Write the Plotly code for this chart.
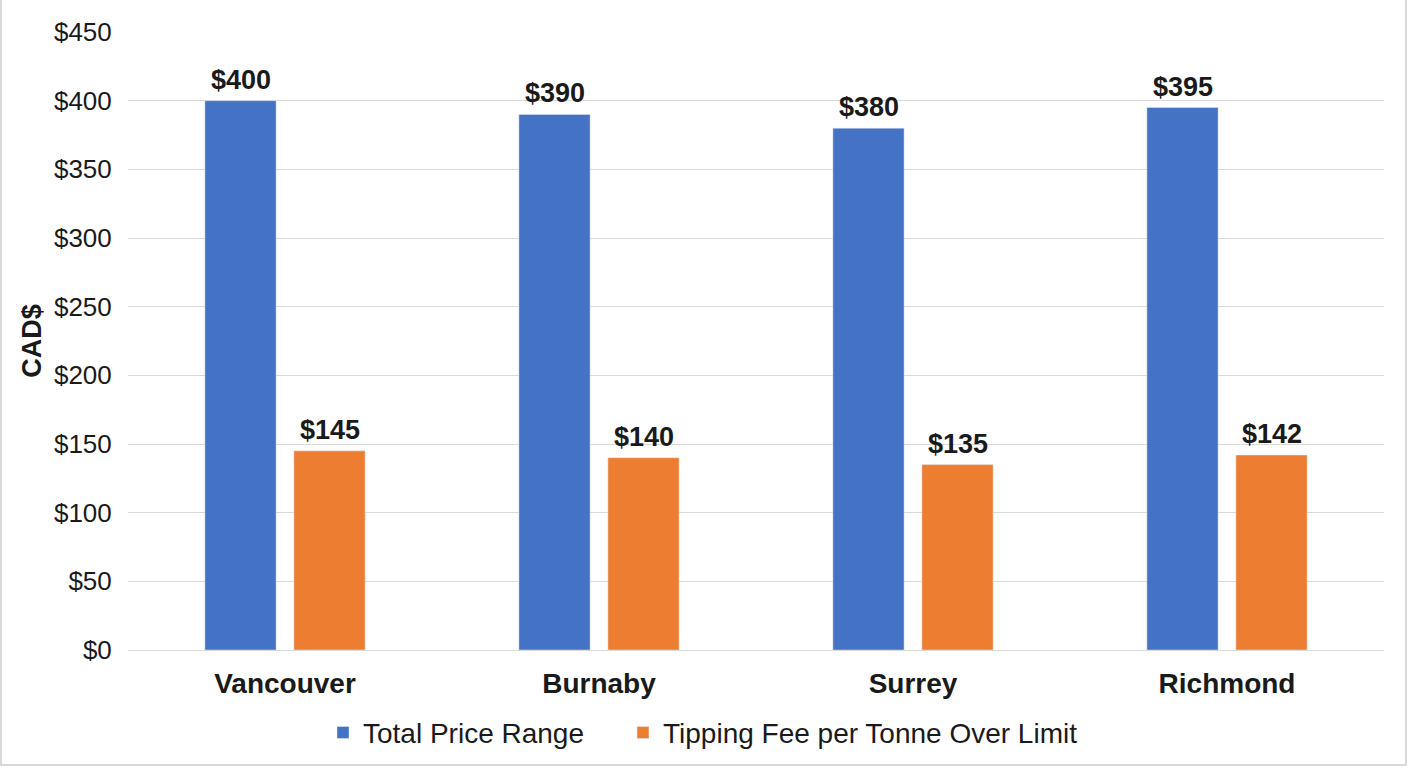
import plotly.graph_objects as go

cities = ["Vancouver", "Burnaby", "Surrey", "Richmond"]
total_price = [400, 390, 380, 395]
tipping_fee = [145, 140, 135, 142]
series_names = ["Total Price Range", "Tipping Fee per Tonne Over Limit"]
y_ticks = [0, 50, 100, 150, 200, 250, 300, 350, 400, 450]
y_tick_labels = ["$" + str(v) for v in y_ticks]

FONT = "Liberation Sans, Arial, sans-serif"
TXT = "#1a1a1a"
COLORS = ["#4472C4", "#ED7D31"]
BAR_OFFSET_PX = [-44.5, 44.5]
LEGEND_IDS = ["legend", "legend2"]
LEGEND_LEFT_PX = [323, 623]

fig = go.Figure()
for name, vals, col, lg in zip(series_names, [total_price, tipping_fee], COLORS, LEGEND_IDS):
    fig.add_trace(go.Bar(name=name, x=cities, y=vals, marker_color=col, legend=lg))

# value labels above bars
for vals, dx in zip([total_price, tipping_fee], BAR_OFFSET_PX):
    for c, v in zip(cities, vals):
        fig.add_annotation(x=c, y=v, text="$" + str(v), showarrow=False,
                           xshift=dx, yanchor="bottom", yshift=4,
                           font=dict(family=FONT, size=27, color=TXT, weight="bold"))

legend_style = dict(orientation="h", xanchor="left", y=-0.134, yanchor="middle",
                    font=dict(family=FONT, size=28, color=TXT), bgcolor="rgba(0,0,0,0)")

fig.update_layout(
    width=1408, height=768, autosize=False,
    margin=dict(l=128, r=24, t=32, b=118, autoexpand=False),
    paper_bgcolor="white", plot_bgcolor="white",
    barmode="group", bargap=0.433, bargroupgap=0.2,
    font=dict(family=FONT, color=TXT),
    legend=dict(x=(LEGEND_LEFT_PX[0] - 128) / 1256, **legend_style),
    legend2=dict(x=(LEGEND_LEFT_PX[1] - 128) / 1256, **legend_style),
    showlegend=True,
)
fig.update_xaxes(
    showgrid=False, showline=False, tickangle=0,
    tickfont=dict(family=FONT, size=28, color=TXT, weight="bold"),
    ticks="outside", ticklen=8, tickcolor="rgba(0,0,0,0)",
)
fig.update_yaxes(
    range=[0, 450], tickmode="array", tickvals=y_ticks, ticktext=y_tick_labels,
    showgrid=True, gridcolor="#d9d9d9", gridwidth=1.2,
    zeroline=True, zerolinecolor="#d9d9d9", zerolinewidth=1.2,
    tickfont=dict(family=FONT, size=26, color=TXT),
    ticks="outside", ticklen=10, tickcolor="rgba(0,0,0,0)",
    title=dict(text="CAD$", font=dict(family=FONT, size=27, color=TXT, weight="bold"), standoff=4),
)
fig.add_shape(type="rect", xref="paper", yref="paper",
              x0=-0.1011, x1=1.0175, y0=-0.186, y1=1.06,
              line=dict(color="#d9d9d9", width=2), fillcolor="rgba(0,0,0,0)", layer="below")

fig.write_html("out.html", post_script="document.body.style.margin='0';",
               config={"displayModeBar": False})
